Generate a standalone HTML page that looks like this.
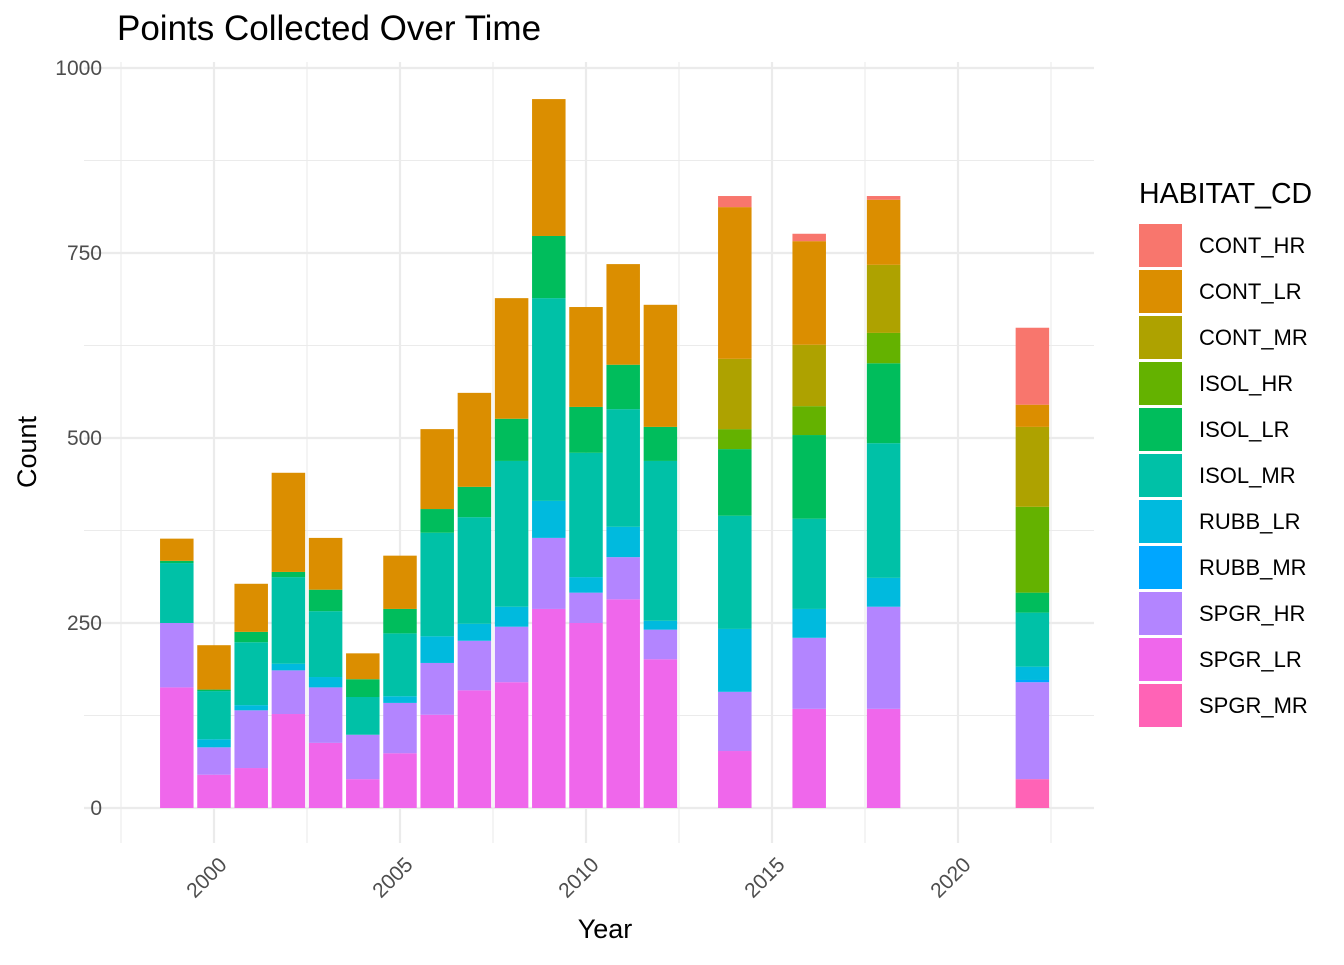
<!DOCTYPE html>
<html><head><meta charset="utf-8"><style>
body{margin:0;background:#fff;}
svg text{font-family:"Liberation Sans",sans-serif;}
</style></head><body>
<svg id="chart" width="1344" height="960" xmlns="http://www.w3.org/2000/svg">
<text x="117" y="40" font-size="35" fill="#000">Points Collected Over Time</text>
<g id="grid"></g>
<g id="bars"></g>
<g id="axes"></g>
<text x="605" y="938" font-size="27" text-anchor="middle" fill="#000">Year</text>
<text transform="translate(36,452) rotate(-90)" font-size="27" text-anchor="middle" fill="#000">Count</text>
<text x="1139" y="203" font-size="28.5" fill="#000">HABITAT_CD</text>
<g id="legend"></g>
</svg>
<script>
const years = [1999,2000,2001,2002,2003,2004,2005,2006,2007,2008,2009,2010,2011,2012,2014,2016,2018,2022];
const habitats = ["SPGR_MR","SPGR_LR","SPGR_HR","RUBB_MR","RUBB_LR","ISOL_MR","ISOL_LR","ISOL_HR","CONT_MR","CONT_LR","CONT_HR"];
const legendOrder = ["CONT_HR","CONT_LR","CONT_MR","ISOL_HR","ISOL_LR","ISOL_MR","RUBB_LR","RUBB_MR","SPGR_HR","SPGR_LR","SPGR_MR"];
const SPGR_MR = [0,0,0,0,0,0,0,0,0,0,0,0,0,0,0,0,0,39];
const SPGR_LR = [163,45,54,127,88,39,74,126,159,170,269,250,282,201,77,134,134,0];
const SPGR_HR = [87,37,78,59,75,60,68,70,67,75,96,41,57,40,80,96,138,131];
const RUBB_MR = [0,0,0,0,0,0,0,0,0,0,0,0,0,0,0,0,0,3];
const RUBB_LR = [0,11,7,9,14,0,9,36,23,27,50,21,41,12,85,39,39,18];
const ISOL_MR = [81,65,85,117,89,51,85,140,144,197,274,168,159,216,153,122,182,73];
const ISOL_LR = [3,2,14,7,29,24,33,32,41,57,84,62,60,46,90,113,108,27];
const ISOL_HR = [0,0,0,0,0,0,0,0,0,0,0,0,0,0,27,39,41,116];
const CONT_MR = [0,0,0,0,0,0,0,0,0,0,0,0,0,0,95,83,92,108];
const CONT_LR = [30,60,65,134,70,35,72,108,127,163,185,135,136,165,205,140,88,30];
const CONT_HR = [0,0,0,0,0,0,0,0,0,0,0,0,0,0,15,10,5,104];
const yTicks = [0,250,500,750,1000];
const yMinor = [125,375,625,875];
const xTicks = [2000,2005,2010,2015,2020];
const xMinor = [1997.5,2002.5,2007.5,2012.5,2017.5,2022.5];
const series = {SPGR_MR,SPGR_LR,SPGR_HR,RUBB_MR,RUBB_LR,ISOL_MR,ISOL_LR,ISOL_HR,CONT_MR,CONT_LR,CONT_HR};
const colors = {CONT_HR:"#F8766D",CONT_LR:"#DB8E00",CONT_MR:"#AEA200",ISOL_HR:"#64B200",ISOL_LR:"#00BD5C",ISOL_MR:"#00C1A7",RUBB_LR:"#00BADE",RUBB_MR:"#00A6FF",SPGR_HR:"#B385FF",SPGR_LR:"#EF67EB",SPGR_MR:"#FF63B6"};

const xs = v => 214 + (v-2000)*37.2;
const ys = v => 808 - v*0.74;
const NS = "http://www.w3.org/2000/svg";
function mk(tag, attrs, parent){const e=document.createElementNS(NS,tag);for(const k in attrs)e.setAttribute(k,attrs[k]);parent.appendChild(e);return e;}
const grid=document.getElementById('grid'), bars=document.getElementById('bars'), axes=document.getElementById('axes'), legend=document.getElementById('legend');

yMinor.forEach(v=>{const l=mk('line',{x1:84,x2:1094,y1:ys(v),y2:ys(v),stroke:"#ebebeb","stroke-width":1.1},grid);

});
xMinor.forEach(v=>{const l=mk('line',{x1:xs(v),x2:xs(v),y1:62,y2:843,stroke:"#ebebeb","stroke-width":1.1},grid);

});
yTicks.forEach(v=>{const l=mk('line',{x1:84,x2:1094,y1:ys(v),y2:ys(v),stroke:"#ebebeb","stroke-width":2.2},grid);


const t=mk('text',{x:102,y:ys(v)+7,"font-size":21,"text-anchor":"end",fill:"#4d4d4d"},axes);t.textContent=v;

});
xTicks.forEach(v=>{const l=mk('line',{x1:xs(v),x2:xs(v),y1:62,y2:843,stroke:"#ebebeb","stroke-width":2.2},grid);


const t=mk('text',{transform:`translate(${xs(v)+14},${866}) rotate(-45)`,"font-size":21,"text-anchor":"end",fill:"#4d4d4d"},axes);t.textContent=v;

});

const bw=33.5;
years.forEach((yr,i)=>{let cum=0;
habitats.forEach(h=>{const v=series[h][i];if(v<=0)return;
const r=mk('rect',{x:xs(yr)-bw/2,y:ys(cum+v),width:bw,height:ys(cum)-ys(cum+v),fill:colors[h]},bars);


cum+=v;});});

legendOrder.forEach((h,i)=>{const y=224+i*46;
const r=mk('rect',{x:1139,y:y,width:43,height:43,fill:colors[h]},legend);


const t=mk('text',{x:1199,y:y+29,"font-size":22,fill:"#000"},legend);t.textContent=h;

});
</script>
</body></html>
